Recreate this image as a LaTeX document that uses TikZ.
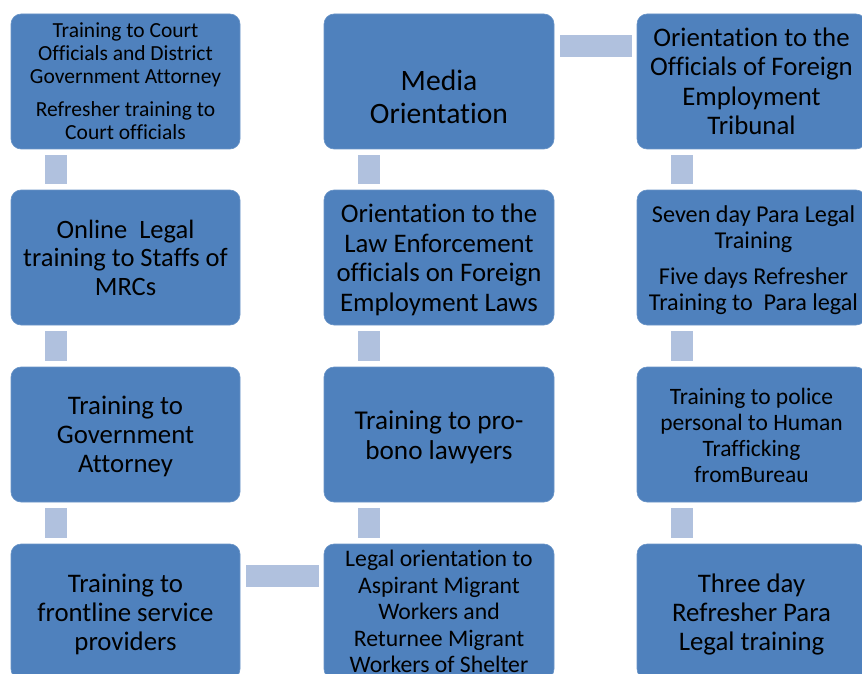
\documentclass[tikz,border=0pt]{standalone}
\usepackage{fontspec}
\setmainfont{Carlito}[Ligatures=NoCommon]
\usetikzlibrary{calc}
\definecolor{boxblue}{HTML}{4F81BD}
\definecolor{connblue}{HTML}{B0C1DE}
\newcommand{\fs}[2]{\fontsize{#1pt}{#2pt}\selectfont}
\begin{document}
\begin{tikzpicture}[x=1pt,y=-1pt,
  bx/.style={draw=boxblue!85!white,line width=0.6pt,fill=boxblue,rounded corners=10pt,inner sep=0pt,
    minimum width=229pt,minimum height=135pt},
  txt/.style={align=center,text=black,inner sep=0pt},
  conn/.style={fill=connblue}]
\useasboundingbox (0,0) rectangle (862,674);
\clip (0,0) rectangle (862,674);
% boxes
\node[bx] (a1) at (125.5,81.5) {};
\node[bx] (a2) at (125.5,257.5) {};
\node[bx] (a3) at (125.5,434.5) {};
\node[bx] (a4) at (125.5,611.5) {};
\node[bx,minimum width=230pt] (b1) at (439,81.5) {};
\node[bx,minimum width=230pt] (b2) at (439,257.5) {};
\node[bx,minimum width=230pt] (b3) at (439,434.5) {};
\node[bx,minimum width=230pt] (b4) at (439,611.5) {};
\node[bx] (c1) at (751.5,81.5) {};
\node[bx] (c2) at (751.5,257.5) {};
\node[bx] (c3) at (751.5,434.5) {};
\node[bx] (c4) at (751.5,611.5) {};
% texts
\node[txt,font=\fs{21.5}{23}] (ta1) at ($(a1)+(0,0)$) {Training to Court\\Officials and District\\Government Attorney\\[10pt]Refresher training to\\Court officials};
\node[txt,font=\fs{26.5}{28.5}] (ta2) at ($(a2)+(0,0)$) {Online\ \ Legal\\training to Staffs of\\MRCs};
\node[txt,font=\fs{26.8}{29}] (ta3) at ($(a3)+(0,2)$) {Training to\\Government\\Attorney};
\node[txt,font=\fs{26.8}{29}] (ta4) at ($(a4)+(0,3)$) {Training to\\frontline service\\providers};
\node[txt,font=\fs{29.6}{33}] (tb1) at ($(b1)+(0,15)$) {Media\\Orientation};
\node[txt,font=\fs{26.8}{29.5}] (tb2) at ($(b2)+(0,2.5)$) {Orientation to the\\Law Enforcement\\officials on Foreign\\Employment Laws};
\node[txt,font=\fs{27.2}{30}] (tb3) at ($(b3)+(0,3)$) {Training to pro-\\bono lawyers};
\node[txt,font=\fs{23.7}{26.5}] (tb4) at ($(b4)+(0,0)$) {Legal orientation to\\Aspirant Migrant\\Workers and\\Returnee Migrant\\Workers of Shelter};
\node[txt,font=\fs{26.8}{29.5}] (tc1) at ($(c1)+(0,0)$) {Orientation to the\\Officials of Foreign\\Employment\\Tribunal};
\node[txt,font=\fs{24.2}{26}] (tc2) at ($(c2)+(2,2.5)$) {Seven day Para Legal\\Training\\[10pt]Five days Refresher\\Training to\ \ Para legal};
\node[txt,font=\fs{23.5}{26}] (tc3) at ($(c3)+(0,1)$) {Training to police\\personal to Human\\Trafficking\\fromBureau};
\node[txt,font=\fs{26.8}{29}] (tc4) at ($(c4)+(0,3)$) {Three day\\Refresher Para\\Legal training};
% vertical connectors
\foreach \u/\v in {a1/a2,a2/a3,a3/a4,b1/b2,b2/b3,b3/b4,c1/c2,c2/c3,c3/c4}{
  \fill[conn] ($(\u.south west)+(34,6)$) rectangle ($(\v.north west)+(56,-6)$);
}
% horizontal connectors
\fill[conn] ($(b1.north east)+(6,21)$) rectangle ($(c1.north west)+(-5,43)$);
\fill[conn] ($(a4.north east)+(6,21)$) rectangle ($(b4.north west)+(-5,43)$);
\end{tikzpicture}
\end{document}
